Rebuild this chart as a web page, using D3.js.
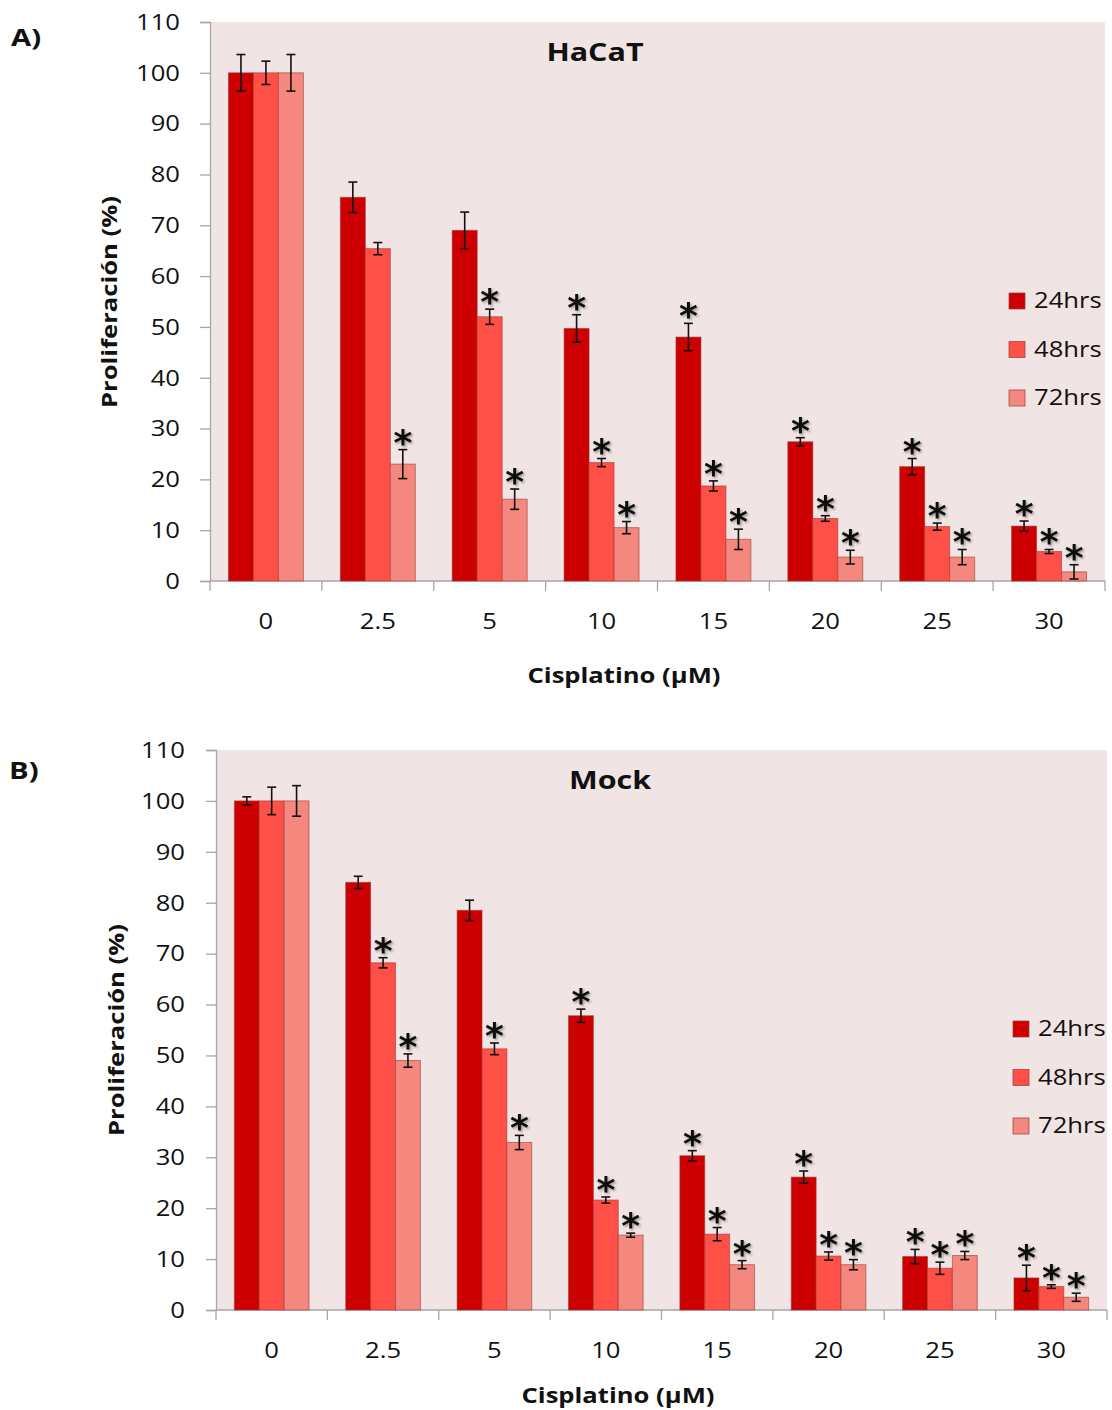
<!DOCTYPE html>
<html>
<head>
<meta charset="utf-8">
<script src="https://cdn.jsdelivr.net/npm/d3@7"></script>
<style>
  body { margin: 0; background: #fff; }
  svg text { font-family: "Open Sans", "Noto Sans", sans-serif; fill: #111; }
</style>
</head>
<body>
<div class="chart"></div>
<script>
// categories (cisplatin dose, uM)
var categories = ["0", "2.5", "5", "10", "15", "20", "25", "30"];
var series = ["24hrs", "48hrs", "72hrs"];
var yTicks = [0, 10, 20, 30, 40, 50, 60, 70, 80, 90, 100, 110];

// panel A - HaCaT
var hacat24 = [100, 75.5, 69, 49.7, 48, 27.4, 22.5, 10.8];
var hacat48 = [100, 65.4, 52, 23.3, 18.7, 12.3, 10.7, 5.8];
var hacat72 = [100, 23, 16.1, 10.5, 8.2, 4.7, 4.7, 1.8];
var hacat24Err = [3.6, 3, 3.6, 2.7, 2.7, 0.8, 1.6, 1];
var hacat48Err = [2.3, 1.2, 1.5, 0.8, 1, 0.55, 0.7, 0.4];
var hacat72Err = [3.6, 2.85, 2, 1.2, 2, 1.35, 1.5, 1.4];
var hacat24Sig = [0, 0, 0, 1, 1, 1, 1, 1];
var hacat48Sig = [0, 0, 1, 1, 1, 1, 1, 1];
var hacat72Sig = [0, 1, 1, 1, 1, 1, 1, 1];

// panel B - Mock
var mock24 = [100, 84, 78.5, 57.8, 30.3, 26.1, 10.5, 6.3];
var mock48 = [100, 68.2, 51.3, 21.6, 14.9, 10.6, 8.2, 4.6];
var mock72 = [100, 49, 32.9, 14.7, 8.9, 8.9, 10.7, 2.5];
var mock24Err = [0.8, 1.2, 2, 1.3, 1, 1.2, 1.4, 2.5];
var mock48Err = [2.7, 1, 1.15, 0.6, 1.3, 0.8, 1.2, 0.35];
var mock72Err = [3, 1.3, 1.4, 0.4, 0.8, 1, 0.8, 0.8];
var mock24Sig = [0, 0, 0, 1, 1, 1, 1, 1];
var mock48Sig = [0, 1, 1, 1, 1, 1, 1, 1];
var mock72Sig = [0, 1, 1, 1, 1, 1, 1, 1];

var color = d3.scaleOrdinal().domain(series)
    .range(["#CC0000", "#FF5048", "#F4887F"]);

// the original figure is a bit wide, so text gets stretched horizontally
var SX = 1.22;

var svg = d3.select(".chart").append("svg")
    .attr("width", 1112)
    .attr("height", 1410);

// soft shadow for the asterisks
var defs = svg.append("defs");
var f = defs.append("filter").attr("id", "shadow")
    .attr("x", "-50%").attr("y", "-50%").attr("width", "200%").attr("height", "200%");
f.append("feDropShadow").attr("dx", 1.5).attr("dy", 1.5)
    .attr("stdDeviation", 1).attr("flood-color", "#000").attr("flood-opacity", 0.35);

// put a wide text at (x, y)
function wideText(parent, x, y, str, size, bold, anchor) {
  return parent.append("text")
      .attr("transform", "translate(" + x + "," + y + ") scale(" + SX + ",1)")
      .attr("dy", "0.35em")
      .attr("text-anchor", anchor || "middle")
      .style("font-size", size + "px")
      .style("font-weight", bold ? "bold" : "normal")
      .text(str);
}

function drawPanel(p) {
  var g = svg.append("g").attr("transform", "translate(" + p.left + "," + p.top + ")");

  var x = d3.scaleBand().domain(categories).range([0, p.width])
      .paddingInner(0.33).paddingOuter(0.165);
  var xs = d3.scaleBand().domain(series).range([0, x.bandwidth()]);
  var y = d3.scaleLinear().domain([0, 110]).range([p.height, 0]);

  // plot background
  g.append("rect")
      .attr("width", p.width)
      .attr("height", p.height)
      .attr("fill", "#F1E4E4");

  // y axis
  var yAxis = g.append("g")
      .call(d3.axisLeft(y).tickValues(yTicks).tickSize(10));
  yAxis.selectAll("path, line").attr("stroke", "#A6A6A6").attr("stroke-width", 1.3);
  yAxis.selectAll("text")
      .attr("x", 0)
      .attr("dy", "0.35em")
      .attr("transform", "translate(" + p.yTickX + ",0) scale(" + SX + ",1)")
      .style("font-size", "21px");

  // x axis, ticks on category borders
  var xAxis = g.append("g").attr("transform", "translate(0," + p.height + ")");
  xAxis.append("line").attr("x1", 0).attr("x2", p.width)
      .attr("stroke", "#A6A6A6").attr("stroke-width", 1.3);
  var step = x.step();
  xAxis.selectAll(".xt").data(d3.range(categories.length + 1)).enter().append("line")
      .attr("x1", function(i) { return i * step; })
      .attr("x2", function(i) { return i * step; })
      .attr("y1", 0).attr("y2", 10)
      .attr("stroke", "#A6A6A6").attr("stroke-width", 1.3);
  categories.forEach(function(c) {
    wideText(xAxis, x(c) + x.bandwidth() / 2, 41, c, 21, false);
  });

  // bars
  var rows = [];
  series.forEach(function(s, si) {
    categories.forEach(function(c, ci) {
      rows.push({ s: s, c: c, v: p.values[si][ci], e: p.errors[si][ci], sig: p.sig[si][ci] });
    });
  });

  var bar = g.selectAll(".bar").data(rows).enter().append("g");

  bar.append("rect")
      .attr("x", function(d) { return x(d.c) + xs(d.s); })
      .attr("y", function(d) { return y(d.v); })
      .attr("width", xs.bandwidth())
      .attr("height", function(d) { return y(0) - y(d.v); })
      .attr("fill", function(d) { return color(d.s); })
      .attr("stroke", "#9A3A36")
      .attr("stroke-opacity", 0.6)
      .attr("stroke-width", 1);

  // error bars
  var cx = function(d) { return x(d.c) + xs(d.s) + xs.bandwidth() / 2; };
  bar.append("line")
      .attr("x1", cx).attr("x2", cx)
      .attr("y1", function(d) { return y(d.v + d.e); })
      .attr("y2", function(d) { return y(d.v - d.e); })
      .attr("stroke", "#111").attr("stroke-width", 1.6);
  [1, -1].forEach(function(sgn) {
    bar.append("line")
        .attr("x1", function(d) { return cx(d) - 4.5; })
        .attr("x2", function(d) { return cx(d) + 4.5; })
        .attr("y1", function(d) { return y(d.v + sgn * d.e); })
        .attr("y2", function(d) { return y(d.v + sgn * d.e); })
        .attr("stroke", "#111").attr("stroke-width", 1.6);
  });

  // significance marks
  g.selectAll(".star").data(rows.filter(function(d) { return d.sig; })).enter().append("text")
      .attr("x", cx)
      .attr("y", function(d) { return y(d.v + d.e) + 5; })
      .attr("text-anchor", "middle")
      .attr("filter", "url(#shadow)")
      .style("font-family", "'DejaVu Sans', sans-serif")
      .style("font-weight", "bold")
      .style("font-size", "36px")
      .text("*");

  // title
  wideText(g, p.titleX, 30, p.title, 25, true);

  // legend
  var leg = g.selectAll(".leg").data(series).enter().append("g")
      .attr("transform", function(d, i) {
        return "translate(" + p.legX + "," + (p.legY + i * 48.5) + ")";
      });
  leg.append("rect")
      .attr("x", 0).attr("y", -8)
      .attr("width", 16).attr("height", 16)
      .attr("fill", function(d) { return color(d); })
      .attr("stroke", "#9A3A36").attr("stroke-opacity", 0.7);
  leg.each(function(d) {
    wideText(d3.select(this), 25, 0, d, 21, false, "start");
  });

  // axis titles
  g.append("text")
      .attr("transform", "translate(" + p.yLabX + "," + p.yLabY + ") rotate(-90) scale(" + SX + ",1)")
      .attr("text-anchor", "middle")
      .attr("dy", "0.35em")
      .style("font-size", "21px")
      .style("font-weight", "bold")
      .text("Proliferación (%)");
  wideText(g, p.xLabX, p.height + p.xLabDy, "Cisplatino (µM)", 21, true);

  // panel letter
  wideText(svg, p.letterX, p.letterY, p.letter, 24, true, "start");
}

drawPanel({
  left: 210, top: 22, width: 895, height: 559,
  values: [hacat24, hacat48, hacat72],
  errors: [hacat24Err, hacat48Err, hacat72Err],
  sig: [hacat24Sig, hacat48Sig, hacat72Sig],
  title: "HaCaT", titleX: 385,
  legX: 799, legY: 279,
  yTickX: -30,
  yLabX: -100, yLabY: 280,
  xLabX: 414, xLabDy: 95,
  letter: "A)", letterX: 11, letterY: 38
});

drawPanel({
  left: 216, top: 750, width: 891, height: 560,
  values: [mock24, mock48, mock72],
  errors: [mock24Err, mock48Err, mock72Err],
  sig: [mock24Sig, mock48Sig, mock72Sig],
  title: "Mock", titleX: 394,
  legX: 797, legY: 279,
  yTickX: -31,
  yLabX: -99, yLabY: 280,
  xLabX: 402, xLabDy: 86,
  letter: "B)", letterX: 9, letterY: 771
});
</script>
</body>
</html>
